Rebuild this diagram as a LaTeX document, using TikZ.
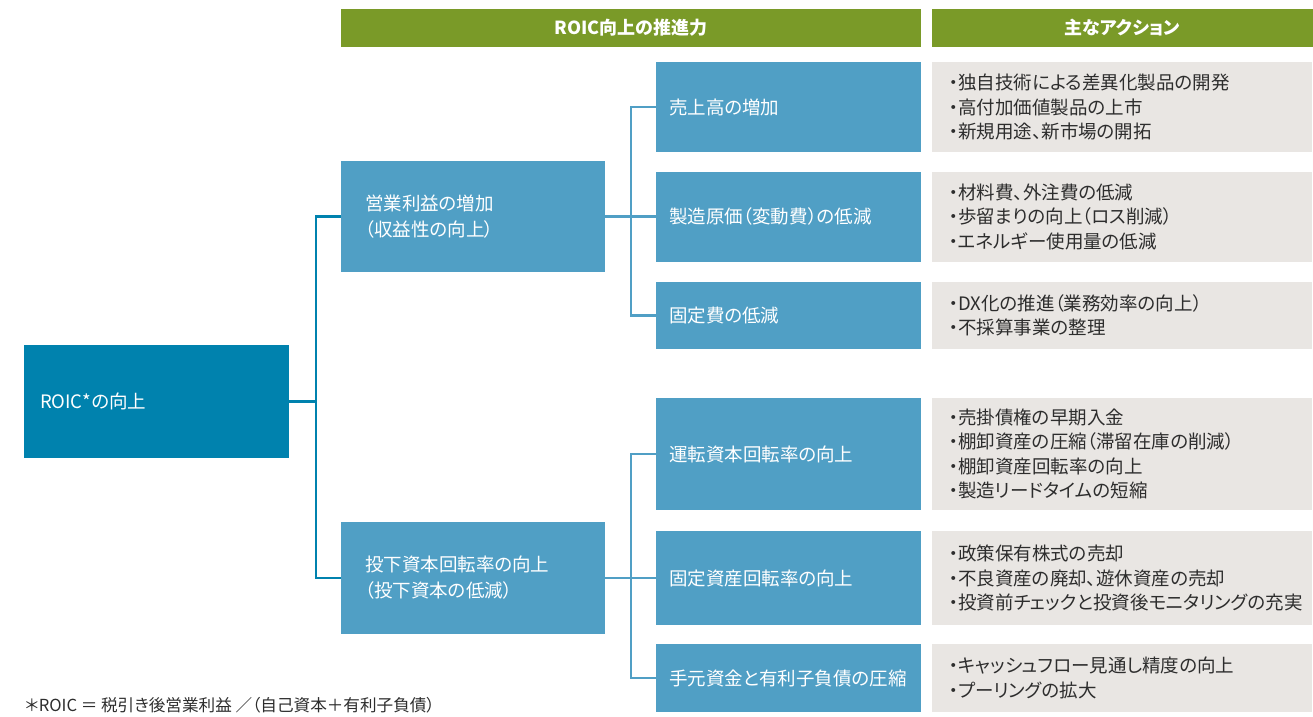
\documentclass[tikz,border=0pt]{standalone}
\usepackage{fontspec}
\setmainfont{Noto Sans CJK JP}[RawFeature=+palt]
\definecolor{hgreen}{RGB}{122,154,40}
\definecolor{roicblue}{RGB}{0,130,174}
\definecolor{lblue}{RGB}{80,159,197}
\definecolor{actbg}{RGB}{233,230,227}
\definecolor{tgray}{RGB}{45,45,45}
\begin{document}
\begin{tikzpicture}[x=1pt,y=-1pt,
  base/.style={rectangle, inner ysep=0pt, outer sep=0pt, align=left,
    font=\fontsize{18.5}{26}\selectfont},
  hdr/.style={rectangle, fill=hgreen, text=white, inner sep=0pt, outer sep=0pt,
    minimum height=38pt, font=\fontsize{18}{20}\selectfont\bfseries},
  rootbox/.style={base, fill=roicblue, text=white, inner xsep=16pt, text width=233pt},
  midbox/.style={base, fill=lblue, text=white, inner xsep=24pt, text width=216pt},
  leafbox/.style={base, fill=lblue, text=white, inner xsep=13pt, text width=239pt},
  actbox/.style={base, fill=actbg, text=tgray, inner xsep=17pt, text width=346pt,
    font=\fontsize{18.5}{24.5}\selectfont},
  rootline/.style={draw=roicblue, line width=2.2pt},
  subline/.style={draw=lblue, line width=2.2pt},
  note/.style={inner sep=0pt, anchor=west, text=tgray, font=\fontsize{16.6}{18}\selectfont}]
\useasboundingbox (0,0) rectangle (1313,716);

% headers
\node[hdr, minimum width=580pt] (h1) at (631,28) {ROIC向上の推進力};
\node[hdr, minimum width=381pt] (h2) at (1122.5,28) {主なアクション};

% root
\node[rootbox, minimum height=113pt] (roic) at (156.5,401.5) {ROIC*の向上};

% middle level
\node[midbox, minimum height=111pt] (m1) at (473,216.5) {営業利益の増加\\（収益性の向上）};
\node[midbox, minimum height=112pt] (m2) at (473,578) {投下資本回転率の向上\\（投下資本の低減）};

% leaf level
\node[leafbox, minimum height=90pt] (l1) at (788.5,107) {売上高の増加};
\node[leafbox, minimum height=90pt] (l2) at (788.5,216.5) {製造原価（変動費）の低減};
\node[leafbox, minimum height=67pt] (l3) at (788.5,315.5) {固定費の低減};
\node[leafbox, minimum height=112pt] (l4) at (788.5,454) {運転資本回転率の向上};
\node[leafbox, minimum height=94pt] (l5) at (788.5,578) {固定資産回転率の向上};
\node[leafbox, minimum height=68pt] (l6) at (788.5,678) {手元資金と有利子負債の圧縮};

% actions
\node[actbox, minimum height=90pt] (a1) at (1122,107) {・独自技術による差異化製品の開発\\・高付加価値製品の上市\\・新規用途、新市場の開拓};
\node[actbox, minimum height=90pt] (a2) at (1122,216.5) {・材料費、外注費の低減\\・歩留まりの向上（ロス削減）\\・エネルギー使用量の低減};
\node[actbox, minimum height=67pt] (a3) at (1122,315.5) {・DX化の推進（業務効率の向上）\\・不採算事業の整理};
\node[actbox, minimum height=112pt] (a4) at (1122,454) {・売掛債権の早期入金\\・棚卸資産の圧縮（滞留在庫の削減）\\・棚卸資産回転率の向上\\・製造リードタイムの短縮};
\node[actbox, minimum height=94pt] (a5) at (1122,578) {・政策保有株式の売却\\・不良資産の廃却、遊休資産の売却\\・投資前チェックと投資後モニタリングの充実};
\node[actbox, minimum height=68pt] (a6) at (1122,678) {・キャッシュフロー見通し精度の向上\\・プーリングの拡大};

% connectors
\draw[rootline] (roic.east) -- ++(27,0) coordinate (f1);
\draw[rootline] (m1.west) -| (f1) |- (m2.west);

\draw[subline] (m1.east) -- ++(26,0) coordinate (f2);
\draw[subline] (l1.west) -| (f2) |- (l3.west);
\draw[subline] (f2) -- (l2.west);

\draw[subline] (m2.east) -- ++(26,0) coordinate (f3);
\draw[subline] (l4.west) -| (f3) |- (l6.west);
\draw[subline] (f3) -- (l5.west);

% footnote
\node[note] (fn) at (25,705) {＊ROIC ＝ 税引き後営業利益 ／（自己資本＋有利子負債）};
\end{tikzpicture}
\end{document}
